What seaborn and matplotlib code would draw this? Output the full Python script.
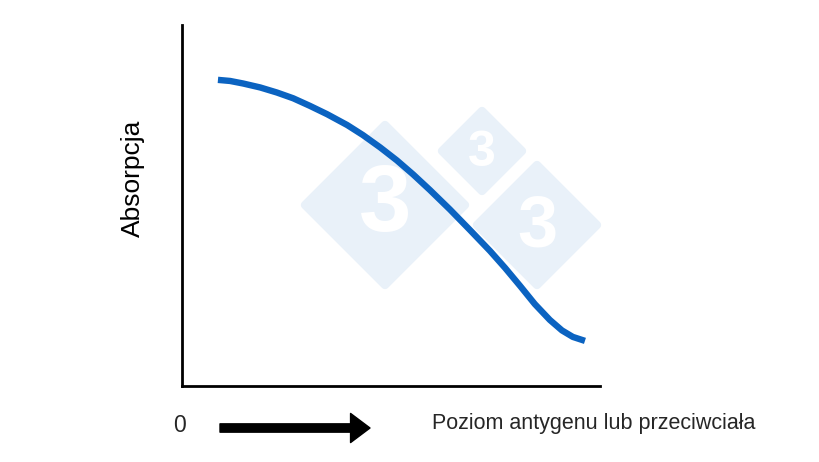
import numpy as np
import pandas as pd
import matplotlib
matplotlib.use("Agg")
import matplotlib.pyplot as plt
from matplotlib.patches import Polygon
import seaborn as sns

# Curve (x: antigen/antibody level, y: absorbance), 0-100 scale
level = [8.6, 11.5, 14.6, 18.7, 22.7, 26.6, 30.6, 34.7, 39.5, 43.3, 47.4, 51.4,
         55.3, 59.3, 64.1, 68.9, 73.7, 77.3, 80.9, 84.4, 88.0, 90.9, 93.5, 96.4]
absorb = [84.8, 84.5, 83.8, 82.7, 81.3, 79.7, 77.6, 75.3, 72.3, 69.5, 66.1, 62.5,
          58.6, 54.3, 48.9, 43.2, 37.4, 32.7, 27.7, 22.7, 18.3, 15.4, 13.6, 12.5]

y_label = "Absorpcja"
x_label = "Poziom antygenu lub przeciwciała"
origin_label = "0"

LINE_COLOR = "#0b63c1"
WM_COLOR = "#e9f1f9"

sns.set_style("white")
plt.rcParams["font.family"] = ["Liberation Sans", "DejaVu Sans"]

W, H = 820, 462
fig = plt.figure(figsize=(W / 100, H / 100), dpi=100)
# axes box in pixels: left 182, right 600, top 25, bottom 386
ax = fig.add_axes([182 / W, (H - 386) / H, (600 - 182) / W, (386 - 25) / H])
ax.set_zorder(3)
ax.patch.set_alpha(0)


def px(x, y):
    return (x / W, 1 - y / H)


# watermark diamonds (decoration, behind the plot)
for cx, cy, r, fs in [(385, 205, 80, 68), (482, 151, 40, 36), (537, 225, 60, 52)]:
    pts = [px(cx - r, cy), px(cx, cy - r), px(cx + r, cy), px(cx, cy + r)]
    fig.patches.append(Polygon(pts, closed=True, transform=fig.transFigure,
                               facecolor=WM_COLOR, edgecolor=WM_COLOR,
                               linewidth=6, joinstyle="round", zorder=0))
    fig.text(*px(cx, cy + 2), "3", color="white", fontsize=fs, fontweight="bold",
             ha="center", va="center", zorder=1)

df = pd.DataFrame({"level": level, "absorb": absorb})
sns.lineplot(data=df, x="level", y="absorb", sort=False, estimator=None,
             color=LINE_COLOR, linewidth=4.6, ax=ax, solid_capstyle="butt",
             solid_joinstyle="round")

ax.set_xlim(0, 100)
ax.set_ylim(0, 100)
ax.set_xticks([])
ax.set_yticks([])
ax.set_xlabel("")
ax.set_ylabel(y_label, fontsize=19, color="black")
ax.yaxis.set_label_coords(-37 / 418, (386 - 178) / 361)
sns.despine(ax=ax)
for side in ["left", "bottom"]:
    ax.spines[side].set_color("black")
    ax.spines[side].set_linewidth(2)

# bottom annotation: 0 -> level label
fig.text(*px(180, 426), origin_label, fontsize=16.5, ha="center", va="center")
fig.text(*px(432, 423), x_label, fontsize=15.5, ha="left", va="center")
ax.annotate("", xy=(370, H - 428), xycoords="figure pixels",
            xytext=(220, H - 428), textcoords="figure pixels",
            arrowprops=dict(width=6, headwidth=21, headlength=14,
                            facecolor="black", edgecolor="black", shrink=0))

fig.savefig("out.png", dpi=100)
